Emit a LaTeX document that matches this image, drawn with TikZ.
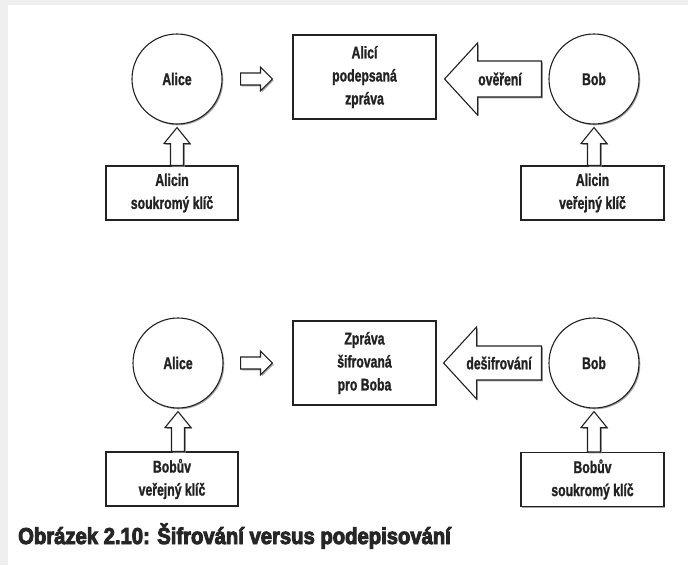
\documentclass[tikz,border=0pt]{standalone}
\usepackage{fontspec}
\setmainfont{Liberation Sans}
\newfontfamily\cond[FakeStretch=0.72,FakeBold=1.2]{Liberation Sans}
\newfontfamily\capfont[FakeStretch=0.88,FakeBold=4]{Liberation Sans}
\usetikzlibrary{calc,shadows}
\definecolor{ink}{HTML}{222222}
\definecolor{edge}{HTML}{EFEFEF}
\tikzset{
  shad/.style={drop shadow={shadow xshift=1.3pt,shadow yshift=-1.3pt,fill=black!45,opacity=0.8}},
  circ/.style={circle,draw=ink,line width=1.1pt,fill=white,shad,minimum size=90pt,inner sep=0pt,
    font=\cond\bfseries\fontsize{17}{20}\selectfont,text=ink},
  box/.style={rectangle,draw=ink,line width=1.1pt,fill=white,shad,inner sep=0pt,align=center,
    font=\cond\bfseries\fontsize{17}{23}\selectfont,text=ink},
  blk/.style={draw=ink,line width=1.1pt,fill=white,shad,line join=miter},
  lbl/.style={inner sep=0pt,font=\cond\bfseries\fontsize{17}{20}\selectfont,text=ink},
  captxt/.style={inner sep=0pt,anchor=base west,font=\capfont\bfseries\fontsize{23}{25}\selectfont,text=black!85}
}
\begin{document}
\begin{tikzpicture}[x=1pt,y=-1pt]
\useasboundingbox (0,0) rectangle (688,565);
\fill[edge] (0,0) rectangle (688,565);
\fill[white] (8,5) rectangle (688,565);

% ---------- top row ----------
\node[circ] (aliceT) at (177,79) {Alice};
\node[circ] (bobT) at (594,79) {Bob};
\node[box,minimum width=143pt,minimum height=84pt] (msgT) at (364.5,77) {Alicí\\podepsaná\\zpráva};
\node[box,minimum width=132pt,minimum height=54pt] (keyAT) at (172,193) {Alicin\\soukromý klíč};
\node[box,minimum width=143pt,minimum height=54pt] (keyBT) at (592.5,193) {Alicin\\veřejný klíč};

% small right arrow Alice -> message
\draw[blk] let \p1=(aliceT.east), \p2=(msgT.west) in
  (\x1+18pt,\y1+6pt) -- (\x2-32pt,\y1+6pt) -- (\x2-32pt,\y1+12pt) -- (\x2-20pt,\y1)
  -- (\x2-32pt,\y1-12pt) -- (\x2-32pt,\y1-6pt) -- (\x1+18pt,\y1-6pt) -- cycle;
% big left arrow Bob -> message
\draw[blk] let \p1=(bobT.west), \p2=(msgT.east) in
  (\x1-7pt,\y1+18pt) -- (\x2+41pt,\y1+18pt) -- (\x2+41pt,\y1+36pt) -- (\x2+8pt,\y1)
  -- (\x2+41pt,\y1-36pt) -- (\x2+41pt,\y1-18pt) -- (\x1-7pt,\y1-18pt) -- cycle;
\node[lbl] (verT) at (500,79) {ověření};
% up arrows keys -> persons
\draw[blk] let \p1=(aliceT.south), \p2=(keyAT.north) in
  (\x1-6.5pt,\y2) -- (\x1-6.5pt,\y1-19pt) -- (\x1-13pt,\y1-19pt) -- (\x1,\y1-3pt)
  -- (\x1+13pt,\y1-19pt) -- (\x1+6.5pt,\y1-19pt) -- (\x1+6.5pt,\y2) -- cycle;
\draw[blk] let \p1=(bobT.south), \p2=(keyBT.north) in
  (\x1-6.5pt,\y2) -- (\x1-6.5pt,\y1-19pt) -- (\x1-13pt,\y1-19pt) -- (\x1,\y1-3pt)
  -- (\x1+13pt,\y1-19pt) -- (\x1+6.5pt,\y1-19pt) -- (\x1+6.5pt,\y2) -- cycle;

% ---------- bottom row ----------
\node[circ] (aliceB) at (178,363) {Alice};
\node[circ] (bobB) at (594,363) {Bob};
\node[box,minimum width=143pt,minimum height=84pt] (msgB) at (364.5,363) {Zpráva\\šifrovaná\\pro Boba};
\node[box,minimum width=132pt,minimum height=54pt] (keyAB) at (172,479) {Bobův\\veřejný klíč};
\node[box,minimum width=143pt,minimum height=54pt] (keyBB) at (592.5,479.5) {Bobův\\soukromý klíč};

\draw[blk] let \p1=(aliceB.east), \p2=(msgB.west) in
  (\x1+17pt,\y1+6pt) -- (\x2-32pt,\y1+6pt) -- (\x2-32pt,\y1+12pt) -- (\x2-20pt,\y1)
  -- (\x2-32pt,\y1-12pt) -- (\x2-32pt,\y1-6pt) -- (\x1+17pt,\y1-6pt) -- cycle;
\draw[blk] let \p1=(bobB.west), \p2=(msgB.east) in
  (\x1-7pt,\y1+17pt) -- (\x2+40pt,\y1+17pt) -- (\x2+40pt,\y1+36pt) -- (\x2+7pt,\y1)
  -- (\x2+40pt,\y1-36pt) -- (\x2+40pt,\y1-17pt) -- (\x1-7pt,\y1-17pt) -- cycle;
\node[lbl] (desB) at (499,363) {dešifrování};
\draw[blk] let \p1=(aliceB.south), \p2=(keyAB.north) in
  (\x1-6.5pt,\y2) -- (\x1-6.5pt,\y1-19pt) -- (\x1-13pt,\y1-19pt) -- (\x1,\y1-3pt)
  -- (\x1+13pt,\y1-19pt) -- (\x1+6.5pt,\y1-19pt) -- (\x1+6.5pt,\y2) -- cycle;
\draw[blk] let \p1=(bobB.south), \p2=(keyBB.north) in
  (\x1-6.5pt,\y2) -- (\x1-6.5pt,\y1-19pt) -- (\x1-13pt,\y1-19pt) -- (\x1,\y1-3pt)
  -- (\x1+13pt,\y1-19pt) -- (\x1+6.5pt,\y1-19pt) -- (\x1+6.5pt,\y2) -- cycle;

% caption
\node[captxt] (cap) at (18,544) {Obrázek 2.10: Šifrování versus podepisování};
\end{tikzpicture}
\end{document}
